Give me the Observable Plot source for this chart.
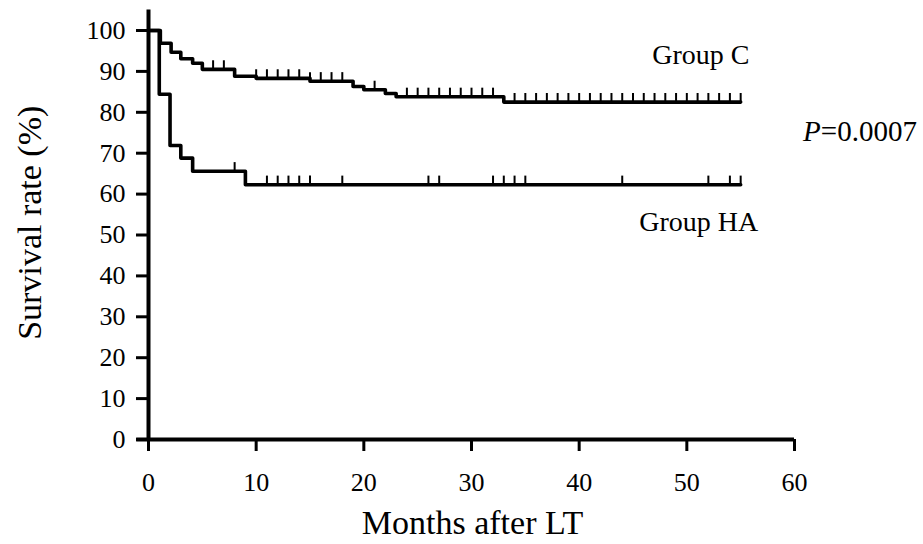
<!DOCTYPE html>
<html>
<head>
<meta charset="utf-8">
<script src="https://cdn.jsdelivr.net/npm/d3@7"></script>
<script src="https://cdn.jsdelivr.net/npm/@observablehq/plot@0.6"></script>
<style>
  html, body { margin: 0; padding: 0; background: #fff; }
  #chart { width: 923px; height: 544px; }
</style>
</head>
<body>
<div id="chart"></div>
<script>
// ---- Data ----
const groupCTime = [0, 1.1, 2.1, 3, 4.1, 5, 8, 10, 15, 19, 20, 22, 23, 33, 55];
const groupCSurv = [100, 96.9, 94.7, 93.1, 92.0, 90.5, 88.8, 88.3, 87.6, 86.3, 85.5, 84.6, 83.8, 82.5, 82.5];
const groupHATime = [0, 1, 2, 3, 4.1, 9, 55];
const groupHASurv = [100, 84.4, 71.9, 68.8, 65.6, 62.3, 62.3];
const groupCCensored = [6, 7, 10, 11, 12, 13, 14, 15, 16, 17, 18, 21, 24, 25, 26, 27, 28, 29, 30, 31, 32,
  34, 35, 36, 37, 38, 39, 40, 41, 42, 43, 44, 45, 46, 47, 48, 49, 50, 51, 52, 53, 54, 55];
const groupHACensored = [8, 11, 12, 13, 14, 15, 18, 26, 27, 32, 33, 34, 35, 44, 52, 54, 55];
const xTicks = [0, 10, 20, 30, 40, 50, 60];
const yTicks = [0, 10, 20, 30, 40, 50, 60, 70, 80, 90, 100];
const groupLabels = ["Group C", "Group HA"];
const pLabel = "P=0.0007";
const xTitle = "Months after LT";
const yTitle = "Survival rate (%)";

// ---- Build tables ----
const curveC = groupCTime.map((t, i) => ({t, s: groupCSurv[i]}));
const curveHA = groupHATime.map((t, i) => ({t, s: groupHASurv[i]}));
function survAt(times, survs, t) {
  let s = survs[0];
  for (let i = 0; i < times.length; i++) if (times[i] <= t) s = survs[i];
  return s;
}
const tickLen = 2.1; // censor mark height in survival units
const censC = groupCCensored.map(t => ({t, s: survAt(groupCTime, groupCSurv, t)}));
const censHA = groupHACensored.map(t => ({t, s: survAt(groupHATime, groupHASurv, t)}));

const font = "'Liberation Serif', 'Times New Roman', serif";

const chart = Plot.plot({
  width: 923,
  height: 544,
  marginLeft: 148,
  marginRight: 129,
  marginTop: 30,
  marginBottom: 105,
  x: {domain: [0, 60]},
  y: {domain: [0, 100]},
  style: {fontFamily: font, fontSize: "26px", color: "#000", background: "#fff", overflow: "visible"},
  marks: [
    Plot.axisY({ticks: yTicks, tickSize: 12, tickPadding: 11, strokeWidth: 3, label: null, fontSize: 26}),
    Plot.axisX({ticks: xTicks, tickSize: 12, tickPadding: 21, strokeWidth: 3, label: null, fontSize: 26}),
    Plot.ruleX([0], {y1: 0, y2: 105, stroke: "#000", strokeWidth: 4}),
    Plot.ruleY([0], {x1: -1.1, x2: 60, stroke: "#000", strokeWidth: 4}),
    Plot.line(curveC, {x: "t", y: "s", curve: "step-after", stroke: "#000", strokeWidth: 3.6}),
    Plot.line(curveHA, {x: "t", y: "s", curve: "step-after", stroke: "#000", strokeWidth: 3.6}),
    Plot.ruleX(censC, {x: "t", y1: "s", y2: d => d.s + tickLen, stroke: "#000", strokeWidth: 2}),
    Plot.ruleX(censHA, {x: "t", y1: "s", y2: d => d.s + tickLen, stroke: "#000", strokeWidth: 2}),
    Plot.text([groupLabels[0]], {x: 51.3, y: 91.9, text: d => d, lineAnchor: "bottom", textAnchor: "middle", fontSize: 28}),
    Plot.text([groupLabels[1]], {x: 51.1, y: 51.1, text: d => d, lineAnchor: "bottom", textAnchor: "middle", fontSize: 28}),
    Plot.text([pLabel], {x: 60.8, y: 72.9, text: d => d, lineAnchor: "bottom", textAnchor: "start", fontSize: 29, className: "pval"}),
    Plot.text([xTitle], {x: 30.1, y: -23.2, text: d => d, lineAnchor: "bottom", textAnchor: "middle", fontSize: 34}),
    Plot.text([yTitle], {x: -10.0, y: 53, text: d => d, rotate: -90, lineAnchor: "bottom", textAnchor: "middle", fontSize: 34})
  ]
});
document.getElementById("chart").appendChild(chart);

// Italic "P" in the p-value label
d3.select(chart).selectAll("text").each(function() {
  const el = d3.select(this);
  if (el.text() === pLabel) {
    el.text(null);
    el.append("tspan").attr("font-style", "italic").text(pLabel.slice(0, 1));
    el.append("tspan").text(pLabel.slice(1));
  }
});
</script>
</body>
</html>
